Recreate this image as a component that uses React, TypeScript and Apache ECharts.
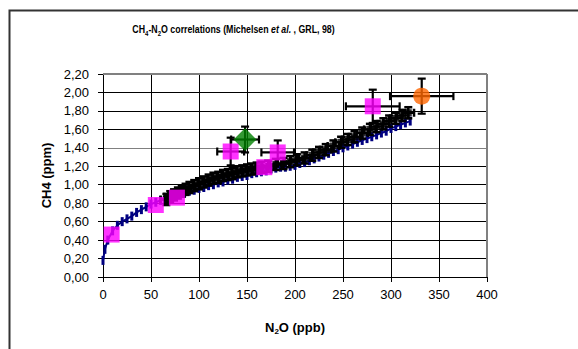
import React, { useEffect, useRef } from "react";
import * as echarts from "echarts";

// Model curve (blue)
const curveN2O = [0, 2, 5, 10, 15, 20, 25, 30, 35, 40, 45, 50, 55, 60, 65, 70, 75, 80, 85, 90, 95, 100, 105, 110, 115, 120, 125, 130, 135, 140, 145, 150, 155, 160, 165, 170, 175, 180, 185, 190, 195, 200, 205, 210, 215, 220, 225, 230, 235, 240, 245, 250, 255, 260, 265, 270, 275, 280, 285, 290, 295, 300, 305, 310, 315, 320];
const curveCH4 = [0.18, 0.3, 0.4, 0.5, 0.56, 0.6, 0.63, 0.66, 0.7, 0.73, 0.76, 0.79, 0.81, 0.83, 0.85, 0.87, 0.88, 0.9, 0.91, 0.93, 0.94, 0.96, 0.97, 0.99, 1.0, 1.02, 1.03, 1.05, 1.06, 1.08, 1.09, 1.1, 1.12, 1.13, 1.14, 1.15, 1.17, 1.18, 1.19, 1.19, 1.2, 1.21, 1.23, 1.24, 1.26, 1.28, 1.3, 1.32, 1.34, 1.36, 1.38, 1.4, 1.42, 1.44, 1.46, 1.48, 1.5, 1.52, 1.54, 1.56, 1.58, 1.61, 1.63, 1.65, 1.67, 1.69];

// Black measurement cluster
const blackN2O = [66, 70, 74, 78, 82, 86, 90, 95, 100, 105, 110, 115, 120, 125, 130, 135, 140, 145, 150, 155, 160, 165, 172, 180, 188, 195, 202, 210, 218, 225, 232, 240, 248, 255, 262, 270, 278, 285, 292, 298, 305, 312, 318];
const blackCH4 = [0.84, 0.87, 0.89, 0.91, 0.93, 0.95, 0.97, 0.99, 1.01, 1.03, 1.05, 1.07, 1.08, 1.1, 1.11, 1.12, 1.14, 1.15, 1.16, 1.17, 1.18, 1.19, 1.2, 1.22, 1.23, 1.25, 1.27, 1.29, 1.32, 1.35, 1.38, 1.42, 1.46, 1.49, 1.52, 1.56, 1.6, 1.63, 1.66, 1.69, 1.72, 1.75, 1.78];
const blackN2OErr = 6;
const blackCH4Err = 0.06;

// Magenta squares
const magN2O = [9, 55, 77, 133, 168, 182, 281];
const magCH4 = [0.46, 0.78, 0.86, 1.36, 1.19, 1.35, 1.85];
const magN2OErr = [0, 0, 0, 14, 0, 17, 28];
const magCH4Err = [0, 0, 0, 0.15, 0, 0.13, 0.18];

// Green diamond
const greenN2O = [148];
const greenCH4 = [1.49];
const greenN2OErr = [14.5];
const greenCH4Err = [0.14];

// Orange circle
const orangeN2O = [332];
const orangeCH4 = [1.96];
const orangeN2OErr = [33];
const orangeCH4Err = [0.19];

const xTicks = [0, 50, 100, 150, 200, 250, 300, 350, 400];
const yTicks = [0, 0.2, 0.4, 0.6, 0.8, 1.0, 1.2, 1.4, 1.6, 1.8, 2.0, 2.2];

function errorBars(xs: number[], ys: number[], xe: number[], ye: number[], z: number, lw: number) {
  return {
    type: "custom",
    z,
    silent: true,
    data: xs.map((x, i) => [x, ys[i], xe[i], ye[i]]),
    encode: { x: 0, y: 1 },
    renderItem: (params: any, api: any) => {
      const x = api.value(0);
      const y = api.value(1);
      const dx = api.value(2);
      const dy = api.value(3);
      const cap = 4;
      const style = { stroke: "#000", lineWidth: lw };
      const children: any[] = [];
      if (dx > 0) {
        const l = api.coord([x - dx, y]);
        const r = api.coord([x + dx, y]);
        children.push({ type: "line", shape: { x1: l[0], y1: l[1], x2: r[0], y2: r[1] }, style });
        children.push({ type: "line", shape: { x1: l[0], y1: l[1] - cap, x2: l[0], y2: l[1] + cap }, style });
        children.push({ type: "line", shape: { x1: r[0], y1: r[1] - cap, x2: r[0], y2: r[1] + cap }, style });
      }
      if (dy > 0) {
        const t = api.coord([x, y + dy]);
        const b = api.coord([x, y - dy]);
        children.push({ type: "line", shape: { x1: t[0], y1: t[1], x2: b[0], y2: b[1] }, style });
        children.push({ type: "line", shape: { x1: t[0] - cap, y1: t[1], x2: t[0] + cap, y2: t[1] }, style });
        children.push({ type: "line", shape: { x1: b[0] - cap, y1: b[1], x2: b[0] + cap, y2: b[1] }, style });
      }
      return { type: "group", children };
    },
  };
}

const zip = (a: number[], b: number[]) => a.map((v, i) => [v, b[i]]);

export default function App() {
  const ref = useRef<HTMLDivElement>(null);
  useEffect(() => {
    const chart = echarts.init(ref.current!, null, { renderer: "svg" });
    const font = "Liberation Sans, Arial, sans-serif";
    const yGridColors = yTicks.map((v) => (Math.abs(v - 1.4) < 1e-6 || Math.abs(v - 2.2) < 1e-6 ? "#808080" : "#000"));
    const xGridColors = xTicks.map((v) => (v === 400 ? "#808080" : "#000"));
    chart.setOption({
      animation: false,
      backgroundColor: "#fff",
      textStyle: { fontFamily: font },
      grid: { left: 103, right: 91, top: 74, bottom: 72, show: false },
      xAxis: {
        type: "value",
        min: 0,
        max: 400,
        interval: 50,
        name: "{b|N}{s|2}{b|O (ppb)}",
        nameLocation: "middle",
        nameGap: 42,
        nameTextStyle: {
          rich: {
            b: { fontFamily: font, fontWeight: "bold", fontSize: 13, lineHeight: 16, color: "#000" },
            s: { fontFamily: font, fontWeight: "bold", fontSize: 8, lineHeight: 10, verticalAlign: "bottom", color: "#000" },
          },
        },
        axisLine: { show: true, lineStyle: { color: "#000", width: 1 } },
        axisTick: { show: true, length: 5, lineStyle: { color: "#000" } },
        axisLabel: { fontSize: 13, color: "#000", margin: 11, fontFamily: font },
        splitLine: { show: true, lineStyle: { color: xGridColors, width: 1 } },
      },
      yAxis: {
        type: "value",
        min: 0,
        max: 2.2,
        interval: 0.2,
        name: "CH4 (ppm)",
        nameLocation: "middle",
        nameGap: 50,
        nameRotate: 90,
        nameTextStyle: { fontFamily: font, fontWeight: "bold", fontSize: 13, color: "#000" },
        axisLine: { show: true, lineStyle: { color: "#000", width: 1 } },
        axisTick: { show: true, length: 5, lineStyle: { color: "#000" } },
        axisLabel: {
          fontSize: 13,
          color: "#000",
          margin: 14,
          fontFamily: font,
          formatter: (v: number) => v.toFixed(2).replace(".", ","),
        },
        splitLine: { show: true, lineStyle: { color: yGridColors, width: 1 } },
      },
      graphic: [
        {
          type: "rect",
          shape: { x: 9.5, y: 10.5, width: 700, height: 500 },
          style: { fill: "none", stroke: "#333", lineWidth: 2 },
          silent: true,
          z: 100,
        },
        {
          type: "line",
          shape: { x1: 487, y1: 74, x2: 487, y2: 277 },
          style: { stroke: "#808080", lineWidth: 2 },
          silent: true,
          z: 1,
        },
        {
          type: "line",
          shape: { x1: 103, y1: 74, x2: 487, y2: 74 },
          style: { stroke: "#808080", lineWidth: 2 },
          silent: true,
          z: 1,
        },
        {
          type: "group",
          x: 233.5,
          y: 29,
          scaleX: 0.8,
          z: 100,
          children: [
            {
              type: "text",
              x: 0,
              y: 0,
              style: {
                text: "{b|CH}{s|4}{b|-N}{s|2}{b|O correlations (Michelsen }{i|et al.}{b| , GRL, 98)}",
                align: "center",
                verticalAlign: "middle",
                textAlign: "center",
                textVerticalAlign: "middle",
                rich: {
                  b: { fontFamily: font, fontWeight: "bold", fontSize: 11, lineHeight: 16, fill: "#000" },
                  i: { fontFamily: font, fontWeight: "bold", fontStyle: "italic", fontSize: 11, lineHeight: 16, fill: "#000" },
                  s: { fontFamily: font, fontWeight: "bold", fontSize: 7.5, lineHeight: 10, verticalAlign: "bottom", fill: "#000" },
                },
              },
            },
          ],
        },
      ],
      series: [
        {
          type: "line",
          data: zip(curveN2O, curveCH4),
          z: 2,
          lineStyle: { color: "#000080", width: 2 },
          itemStyle: { color: "#000080" },
          symbol: "rect",
          symbolSize: [3, 9],
          showSymbol: true,
          showAllSymbol: true,
        },
        errorBars(blackN2O, blackCH4, blackN2O.map(() => blackN2OErr), blackN2O.map(() => blackCH4Err), 3, 2.5),
        {
          type: "scatter",
          data: zip(blackN2O, blackCH4),
          z: 4,
          symbol: "rect",
          symbolSize: [7, 7],
          itemStyle: { color: "#000" },
        },
        errorBars(magN2O, magCH4, magN2OErr, magCH4Err, 5, 2.2),
        errorBars(greenN2O, greenCH4, greenN2OErr, greenCH4Err, 5, 2.2),
        errorBars(orangeN2O, orangeCH4, orangeN2OErr, orangeCH4Err, 5, 2.2),
        {
          type: "scatter",
          data: zip(magN2O, magCH4),
          z: 6,
          symbol: "rect",
          symbolSize: 16,
          itemStyle: { color: "#ff00ff" },
        },
        {
          type: "scatter",
          data: zip(greenN2O, greenCH4),
          z: 6,
          symbol: "diamond",
          symbolSize: [23, 23],
          itemStyle: { color: "#008000" },
        },
        {
          type: "scatter",
          data: zip(orangeN2O, orangeCH4),
          z: 6,
          symbol: "circle",
          symbolSize: 17,
          itemStyle: { color: "#ff6600" },
        },
      ],
    });
    return () => chart.dispose();
  }, []);
  return (
    <div
      ref={ref}
      style={{ position: "fixed", left: 0, top: 0, width: 578, height: 349 }}
    />
  );
}
